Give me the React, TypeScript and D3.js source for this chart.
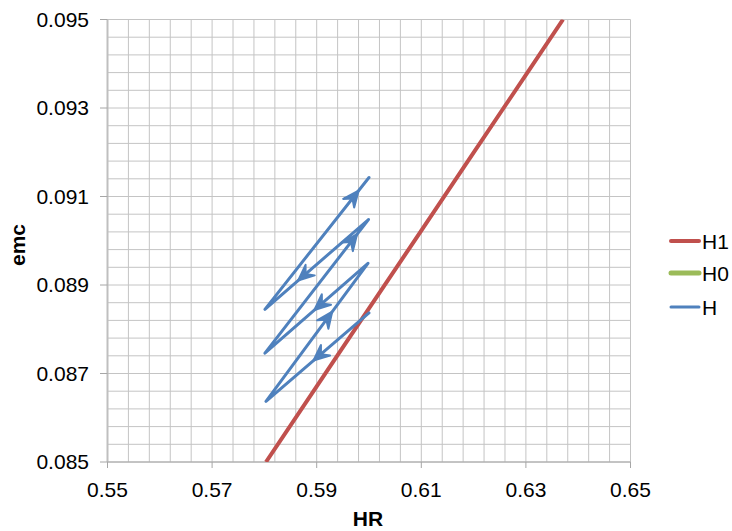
import React from "react";
import * as d3 from "d3";

// ---- data ----
const xTicks = [0.55, 0.57, 0.59, 0.61, 0.63, 0.65];
const yTicks = [0.085, 0.087, 0.089, 0.091, 0.093, 0.095];
const xTickLabels = ["0.55", "0.57", "0.59", "0.61", "0.63", "0.65"];
const yTickLabels = ["0.085", "0.087", "0.089", "0.091", "0.093", "0.095"];

const h1HR = [0.5803, 0.59, 0.6, 0.61, 0.62, 0.63, 0.6371];
const h1EMC = [0.085, 0.08671, 0.08847, 0.09023, 0.09199, 0.09375, 0.095];

const h0HR: number[] = [];
const h0EMC: number[] = [];

const hHR = [0.6, 0.5803, 0.5998, 0.5801, 0.5999, 0.5801, 0.6];
const hEMC = [0.08837, 0.08637, 0.08949, 0.08746, 0.09048, 0.08845, 0.09143];

// fraction along each leg where an arrowhead tip sits
const arrowFrac = [0.54, 0.65, 0.52, 0.89, 0.68, 0.9];

const seriesNames = ["H1", "H0", "H"];
const seriesColors = ["#c0504d", "#9bbb59", "#4f81bd"];
const seriesWidths = [4, 5, 3];

export default function App() {
  const W = 732, H = 531;
  const x = d3.scaleLinear().domain([0.55, 0.65]).range([107.5, 630.5]);
  const y = d3.scaleLinear().domain([0.085, 0.095]).range([462, 19.5]);

  const xGrid = d3.range(0, 26).map((i) => 0.55 + i * 0.004);
  const yGrid = d3.range(0, 26).map((i) => 0.085 + i * 0.0004);

  const line = d3
    .line<[number, number]>()
    .x((d) => x(d[0]))
    .y((d) => y(d[1]));

  const h1Pts = h1HR.map((v, i) => [v, h1EMC[i]] as [number, number]);
  const h0Pts = h0HR.map((v, i) => [v, h0EMC[i]] as [number, number]);
  const hPts = hHR.map((v, i) => [v, hEMC[i]] as [number, number]);

  const arrows = arrowFrac.map((f, i) => {
    const x0 = x(hHR[i]), y0 = y(hEMC[i]);
    const x1 = x(hHR[i + 1]), y1 = y(hEMC[i + 1]);
    const tx = x0 + (x1 - x0) * f;
    const ty = y0 + (y1 - y0) * f;
    const ang = (Math.atan2(y1 - y0, x1 - x0) * 180) / Math.PI;
    return { tx, ty, ang };
  });

  const font = "'Liberation Sans', Arial, sans-serif";

  return (
    <svg
      width={W}
      height={H}
      style={{ position: "absolute", left: 0, top: 0, background: "#fff" }}
    >
      <defs>
        <clipPath id="plot">
          <rect x={107.5} y={19.5} width={523} height={442.5} />
        </clipPath>
      </defs>
      {/* grid */}
      {xGrid.map((g, i) => (
        <line
          key={"xg" + i}
          x1={x(g)}
          x2={x(g)}
          y1={y(0.085)}
          y2={y(0.095)}
          stroke="#c4c4c4"
          strokeWidth={1}
        />
      ))}
      {yGrid.map((g, i) => (
        <line
          key={"yg" + i}
          x1={x(0.55)}
          x2={x(0.65)}
          y1={y(g)}
          y2={y(g)}
          stroke="#c4c4c4"
          strokeWidth={1}
        />
      ))}
      {/* axes */}
      <line x1={x(0.55)} x2={x(0.55)} y1={y(0.095)} y2={y(0.085)} stroke="#bfbfbf" strokeWidth={2} />
      <line x1={x(0.55)} x2={x(0.65)} y1={y(0.085)} y2={y(0.085)} stroke="#a6a6a6" strokeWidth={1} />
      {yTicks.map((t, i) => (
        <g key={"yt" + i}>
          <line x1={100} x2={x(0.55)} y1={y(t)} y2={y(t)} stroke="#a6a6a6" />
          <text
            x={89}
            y={y(t)}
            dy="0.35em"
            textAnchor="end"
            fontFamily={font}
            fontSize={21}
            fill="#000"
          >
            {yTickLabels[i]}
          </text>
        </g>
      ))}
      {xTicks.map((t, i) => (
        <g key={"xt" + i}>
          <line x1={x(t)} x2={x(t)} y1={y(0.085)} y2={468} stroke="#a6a6a6" />
          <text
            x={x(t)}
            y={497}
            textAnchor="middle"
            fontFamily={font}
            fontSize={21}
            fill="#000"
          >
            {xTickLabels[i]}
          </text>
        </g>
      ))}
      <text x={368} y={526} textAnchor="middle" fontFamily={font} fontSize={21} fontWeight="bold">
        HR
      </text>
      <text
        transform="translate(25,245) rotate(-90)"
        textAnchor="middle"
        fontFamily={font}
        fontSize={21}
        fontWeight="bold"
      >
        emc
      </text>
      {/* series */}
      <g clipPath="url(#plot)">
        <path d={line(h1Pts) || ""} fill="none" stroke={seriesColors[0]} strokeWidth={seriesWidths[0]} />
        {h0Pts.length > 0 && (
          <path d={line(h0Pts) || ""} fill="none" stroke={seriesColors[1]} strokeWidth={seriesWidths[1]} />
        )}
        <path
          d={line(hPts) || ""}
          fill="none"
          stroke={seriesColors[2]}
          strokeWidth={seriesWidths[2]}
          strokeLinejoin="round"
          strokeLinecap="round"
        />
        {arrows.map((a, i) => (
          <path
            key={"ar" + i}
            d="M0,0 L-16,-7 L-10,0 L-16,7 Z"
            transform={`translate(${a.tx},${a.ty}) rotate(${a.ang})`}
            fill={seriesColors[2]}
            stroke={seriesColors[2]}
            strokeWidth={2}
            strokeLinejoin="round"
          />
        ))}
      </g>
      {/* legend */}
      {seriesNames.map((n, i) => {
        const ly = [241, 273, 307][i];
        return (
          <g key={"lg" + i}>
            <line
              x1={671}
              x2={699}
              y1={ly}
              y2={ly}
              stroke={seriesColors[i]}
              strokeWidth={seriesWidths[i]}
              strokeLinecap="round"
            />
            <text x={702} y={ly} dy="0.36em" fontFamily={font} fontSize={21} fill="#000">
              {n}
            </text>
          </g>
        );
      })}
    </svg>
  );
}
